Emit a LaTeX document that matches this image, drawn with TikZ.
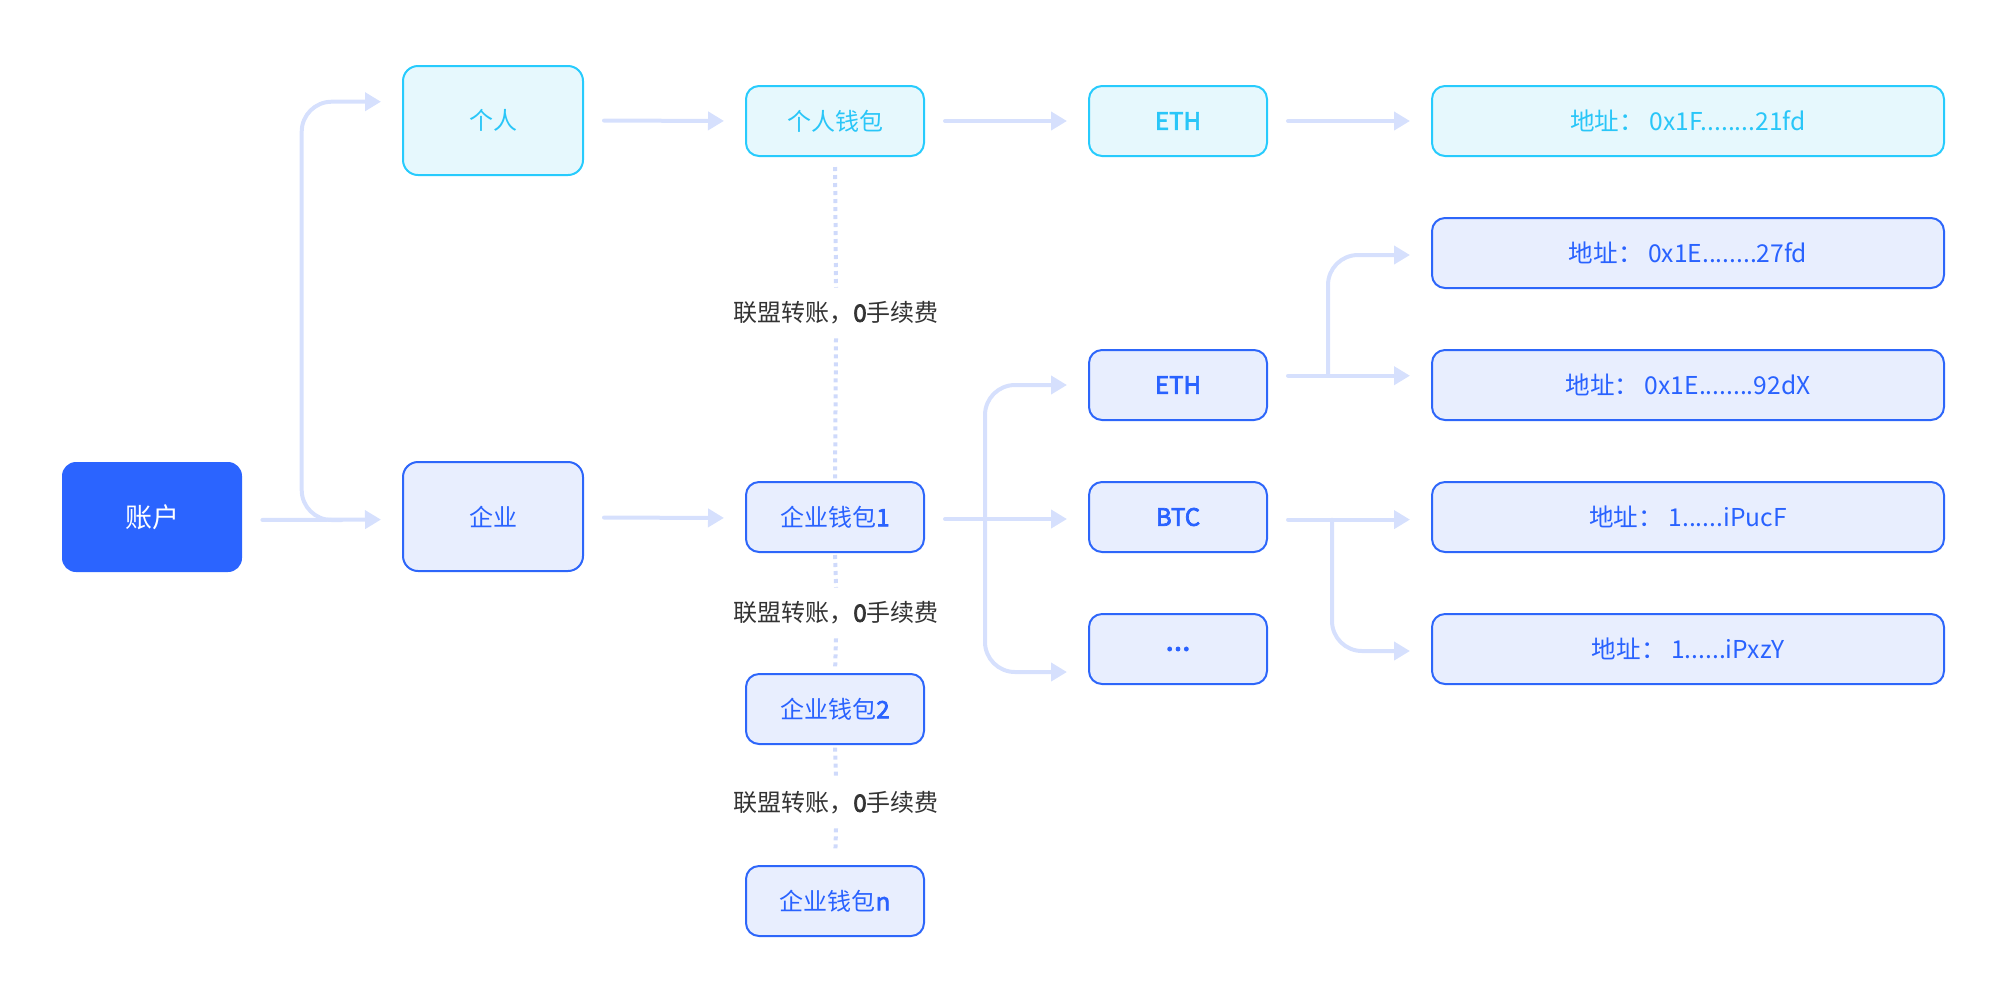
\documentclass[tikz,border=0pt]{standalone}
\usepackage{fontspec}
\setmainfont{Noto Sans CJK SC}
\usetikzlibrary{arrows.meta,calc}

\definecolor{mainBlue}{HTML}{2B64FF}
\definecolor{bLine}{HTML}{2D66FA}
\definecolor{bFill}{HTML}{E8EEFE}
\definecolor{bText}{HTML}{2962FF}
\definecolor{cLine}{HTML}{27CBFD}
\definecolor{cFill}{HTML}{E6F8FD}
\definecolor{cText}{HTML}{29C6F8}
\definecolor{arrowC}{HTML}{D6E0FD}
\definecolor{dotC}{HTML}{CFDAFB}
\definecolor{noteText}{HTML}{333333}

% medium-weight text: fill and stroke the glyph outlines
\newcommand{\md}[1]{\special{pdf:literal direct 2 Tr 0.35 w}#1\special{pdf:literal direct 0 Tr}}

\begin{document}
\begin{tikzpicture}[x=0.5pt,y=-0.5pt,
  box/.style={draw, line width=1pt, rounded corners=6.5pt,
    minimum width=89pt, minimum height=35pt, inner sep=0pt,
    font=\fontsize{12}{14}\selectfont},
  bluebox/.style={box, draw=bLine, fill=bFill, text=bText},
  cyanbox/.style={box, draw=cLine, fill=cFill, text=cText},
  bigbox/.style={minimum width=90pt, minimum height=54.5pt, rounded corners=7.5pt},
  addrbox/.style={minimum width=256pt, font=\fontsize{12.3}{14}\selectfont},
  acctbox/.style={fill=mainBlue, text=white, rounded corners=7pt,
    minimum width=90pt, minimum height=55pt, inner sep=0pt,
    font=\fontsize{13.5}{15}\selectfont},
  conn/.style={draw=arrowC, line width=2pt, line cap=round,
    -{Triangle[length=8pt,width=9pt]}, shorten <=10pt, shorten >=10.5pt},
  branch/.style={conn, shorten <=0pt, rounded corners=15pt},
  dots/.style={draw=dotC, line width=2pt, dash pattern=on 2pt off 2pt},
  note/.style={text=noteText, font=\fontsize{12}{14}\selectfont,
    minimum height=25pt, inner sep=0pt}
]
\useasboundingbox (0,0) rectangle (2007,1003);

% account root and its two kinds
\node[acctbox] (acct) at (152,517) {账户};
\node[cyanbox,bigbox] (per) at (493,120.5) {个人};
\node[bluebox,bigbox] (ent) at (493,516.5) {企业};

% wallets
\node[cyanbox] (pw) at (835,121) {个人钱包};
\node[bluebox] (ew1) at (835,517) {企业钱包\md{1}};
\node[bluebox] (ew2) at (835,709) {企业钱包\md{2}};
\node[bluebox] (ewn) at (835,901) {企业钱包\md{n}};

% transfer notes between wallets
\node[note] (l1) at (836,313) {联盟转账，\md{0}手续费};
\node[note] (l2) at (836,613) {联盟转账，\md{0}手续费};
\node[note] (l3) at (836,803) {联盟转账，\md{0}手续费};

% chains
\node[cyanbox] (eth1) at (1178,121) {\md{ETH}};
\node[bluebox] (eth2) at (1178,385) {\md{ETH}};
\node[bluebox] (btc) at (1178,517) {\md{BTC}};
\node[bluebox] (more) at (1178,649) {\fontsize{15}{15}\selectfont\md{...}};

% addresses
\node[cyanbox,addrbox] (a1) at (1688,121) {地址： 0x1F........21fd};
\node[bluebox,addrbox] (a2) at (1688,253) {地址： 0x1E........27fd};
\node[bluebox,addrbox] (a3) at (1688,385) {地址： 0x1E........92dX};
\node[bluebox,addrbox] (a4) at (1688,517) {地址： 1......iPucF};
\node[bluebox,addrbox] (a5) at (1688,649) {地址： 1......iPxzY};

% junction points of the forks
\coordinate (jA) at (301.7,520);
\coordinate (jB) at (985,519);
\coordinate (jC) at (1328,375.7);
\coordinate (jD) at (1332,519.7);

% account -> personal / enterprise
\draw[conn] ([yshift=-1.5pt]acct.east) -- ([yshift=-1.5pt]ent.west);
\draw[branch] ($(jA)+(40,0)$) -- (jA) |- ([yshift=9.4pt]per.west);

% kinds -> wallets
\draw[conn] (per.east) -- (pw.west);
\draw[conn] ([yshift=-0.5pt]ent.east) -- ([yshift=-0.5pt]ew1.west);

% wallets -> chains
\draw[conn] (pw.east) -- (eth1.west);
\draw[conn] ([yshift=-1pt]ew1.east) -- ([yshift=-1pt]btc.west);
\draw[branch] (jB) |- (eth2.west);
\draw[branch] (jB) |- ([yshift=-11.5pt]more.west);

% chains -> addresses
\draw[conn] (eth1.east) -- (a1.west);
\draw[conn] ([yshift=4.65pt]eth2.east) -- ([yshift=4.65pt]a3.west);
\draw[branch] (jC) |- ([yshift=-1pt]a2.west);
\draw[conn] ([yshift=-1.3pt]btc.east) -- ([yshift=-1.3pt]a4.west);
\draw[branch] (jD) |- ([yshift=-1pt]a5.west);

% dotted links between wallets
\draw[dots, shorten <=5pt] (pw.south) -- (l1.north);
\draw[dots, shorten >=1pt] (l1.south) -- (ew1.north);
\draw[dots, shorten <=1pt] (ew1.south) -- (l2.north);
\draw[dots, shorten >=1.5pt] (l2.south) -- (ew2.north);
\draw[dots, shorten <=1.3pt] (ew2.south) -- (l3.north);
\draw[dots, shorten >=6.7pt] (l3.south) -- (ewn.north);
\end{tikzpicture}
\end{document}
